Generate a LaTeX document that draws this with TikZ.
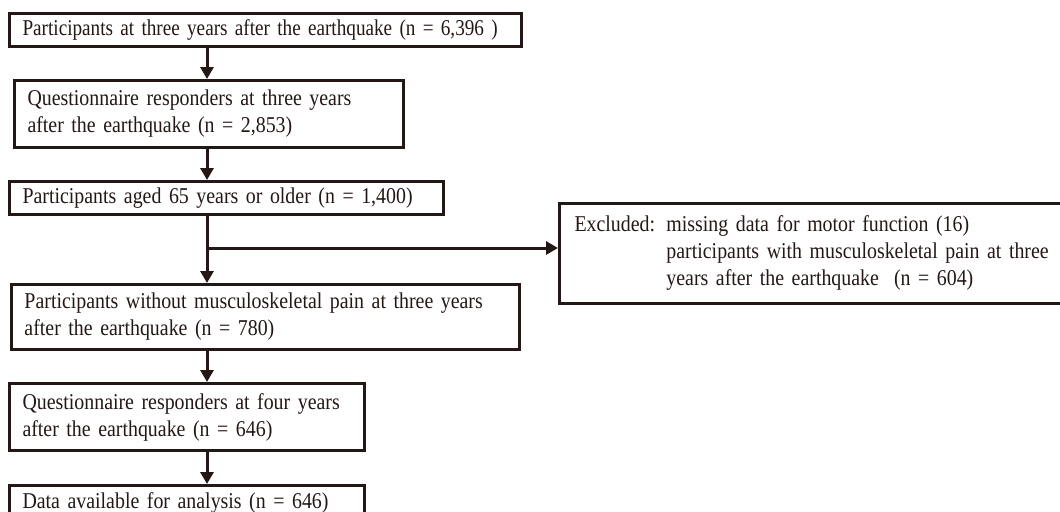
\documentclass[tikz,border=0pt]{standalone}
\usepackage{fontspec}
\setmainfont[FakeStretch=0.88]{Liberation Serif}
\usepackage{tikz}
\usetikzlibrary{positioning,arrows.meta,calc}
\definecolor{tinta}{HTML}{231815}
\newcommand{\linea}[1]{\mbox{#1}}

\begin{document}
\begin{tikzpicture}[x=0.5pt, y=-0.5pt, font={\fontsize{11.3}{13.5}\selectfont\fontdimen2\font=0.16em\relax},
  caja/.style={draw=tinta, line width=1.5pt, anchor=north west, align=left,
    inner xsep=6.5pt, inner ysep=0pt, text=tinta},
  flecha/.style={-{Triangle[length=6pt, width=6.5pt]}, line width=1.5pt, draw=tinta}]
  \useasboundingbox (0,0) rectangle (1060,511);
  \node[caja, minimum width=256pt, minimum height=16.5pt, text width=243pt] (p1) at (8,12)
    {\scalebox{0.965}[1]{\linea{Participants at three years after the earthquake (n = 6,396 )}}};
  \node[caja, minimum width=194.5pt, minimum height=33.5pt, text width=181.5pt] (p2) at (13,79)
    {\linea{Questionnaire responders at three years}\\\linea{after the earthquake (n = 2,853)}};
  \node[caja, minimum width=217pt, minimum height=16.5pt, text width=204pt] (p3) at (8,180)
    {\linea{Participants aged 65 years or older (n = 1,400)}};
  \node[caja, minimum width=252pt, minimum height=50pt, text width=239pt, inner xsep=7.5pt] (excl) at (558,202)
    {\begin{tabular}{@{}l@{ }l@{}}
      Excluded: & missing data for motor function (16)\\
                & participants with musculoskeletal pain at three\\
                & years after the earthquake \ (n = 604)
    \end{tabular}};
  \node[caja, minimum width=254pt, minimum height=32.5pt, text width=241pt] (p4) at (10,283)
    {\linea{Participants without musculoskeletal pain at three years}\\\linea{after the earthquake (n = 780)}};
  \node[caja, minimum width=177.5pt, minimum height=33.5pt, text width=164.5pt] (p5) at (8,382)
    {\linea{Questionnaire responders at four years}\\\linea{after the earthquake (n = 646)}};
  \node[caja, minimum width=177.5pt, minimum height=17pt, text width=164.5pt] (p6) at (8,484)
    {\linea{Data available for analysis (n = 646)}};
  % eje vertical del diagrama
  \coordinate (eje) at (207,0);
  \coordinate (rama) at (207,248);
  \draw[flecha] (p1.south -| eje) -- (p2.north -| eje);
  \draw[flecha] (p2.south -| eje) -- (p3.north -| eje);
  \draw[flecha] (p3.south -| eje) -- (p4.north -| eje);
  \draw[flecha] (rama) -- (rama -| excl.west);
  \draw[flecha] (p4.south -| eje) -- (p5.north -| eje);
  \draw[flecha] (p5.south -| eje) -- (p6.north -| eje);
\end{tikzpicture}
\end{document}
